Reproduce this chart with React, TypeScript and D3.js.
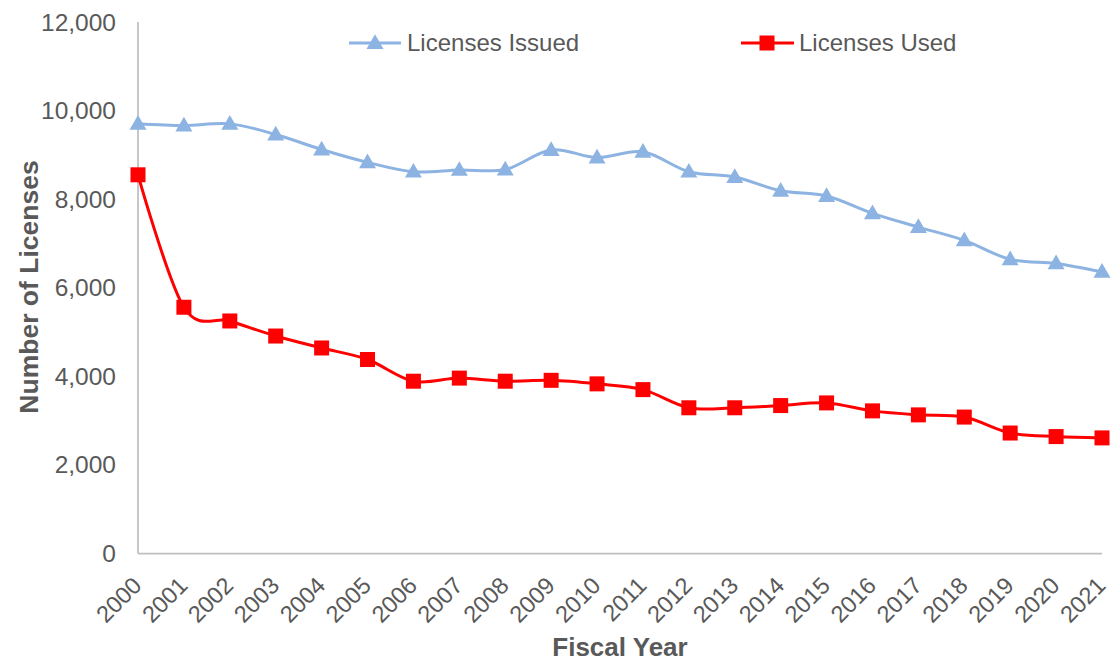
import React from "react";
import * as d3 from "d3";

const years = ["2000","2001","2002","2003","2004","2005","2006","2007","2008","2009","2010","2011","2012","2013","2014","2015","2016","2017","2018","2019","2020","2021"];
const issued = [9700,9660,9700,9460,9120,8830,8620,8660,8670,9110,8940,9070,8620,8500,8190,8070,7680,7370,7070,6640,6550,6360];
const used = [8550,5560,5250,4910,4640,4380,3890,3960,3890,3910,3830,3700,3290,3290,3340,3400,3220,3130,3080,2720,2640,2610];
const yTicks = [0,2000,4000,6000,8000,10000,12000];

const W = 1111, H = 663;
const TXT = "#595959";
const AX = "#BFBFBF";
const BLUE = "#8DB3E2";
const RED = "#FF0000";
const FONT = "'Liberation Sans', Arial, sans-serif";

export default function App() {
  const x = d3.scalePoint<string>().domain(years).range([138, 1102]);
  const y = d3.scaleLinear().domain([0, 12000]).range([553.5, 22]);
  const fmt = d3.format(",");
  const line = d3.line<number>()
    .x((_, i) => x(years[i]) as number)
    .y((d) => y(d))
    .curve(d3.curveCardinal.tension(0));
  const tri = d3.symbol().type(d3.symbolTriangle).size(125)();
  const sq = 15;

  return (
    <svg width={W} height={H} style={{ position: "absolute", left: 0, top: 0, background: "#fff" }} fontFamily={FONT}>
      {/* axes */}
      <line x1={138} x2={138} y1={22} y2={553.5} stroke={AX} strokeWidth={1.75} />
      <line x1={138} x2={1102} y1={553.5} y2={553.5} stroke={AX} strokeWidth={1.75} />
      {yTicks.map((t) => (
        <text key={t} x={116} y={y(t)} dy="0.35em" textAnchor="end" fontSize={24.5} fill={TXT}>{fmt(t)}</text>
      ))}
      {years.map((yr) => (
        <text key={yr} transform={`translate(${(x(yr) as number) + 5},${587}) rotate(-45)`} textAnchor="end" fontSize={23.5} fill={TXT}>{yr}</text>
      ))}
      <text x={620} y={656} textAnchor="middle" fontSize={26} fontWeight="bold" fill={TXT}>Fiscal Year</text>
      <text transform={`translate(38,287) rotate(-90)`} textAnchor="middle" fontSize={26.5} fontWeight="bold" fill={TXT}>Number of Licenses</text>

      {/* series */}
      <path d={line(issued) || ""} fill="none" stroke={BLUE} strokeWidth={3} />
      {issued.map((v, i) => (
        <path key={"i" + i} d={tri || ""} transform={`translate(${x(years[i])},${y(v) + 1})`} fill={BLUE} />
      ))}
      <path d={line(used) || ""} fill="none" stroke={RED} strokeWidth={3} />
      {used.map((v, i) => (
        <rect key={"u" + i} x={(x(years[i]) as number) - sq / 2} y={y(v) - sq / 2} width={sq} height={sq} fill={RED} />
      ))}

      {/* legend */}
      <line x1={349} x2={401} y1={43} y2={43} stroke={BLUE} strokeWidth={3} />
      <path d={tri || ""} transform="translate(375,44)" fill={BLUE} />
      <text x={407} y={43} dy="0.35em" fontSize={24} fill={TXT}>Licenses Issued</text>
      <line x1={741} x2={794} y1={43} y2={43} stroke={RED} strokeWidth={3} />
      <rect x={767 - sq / 2} y={43 - sq / 2} width={sq} height={sq} fill={RED} />
      <text x={799} y={43} dy="0.35em" fontSize={24} fill={TXT}>Licenses Used</text>
    </svg>
  );
}
